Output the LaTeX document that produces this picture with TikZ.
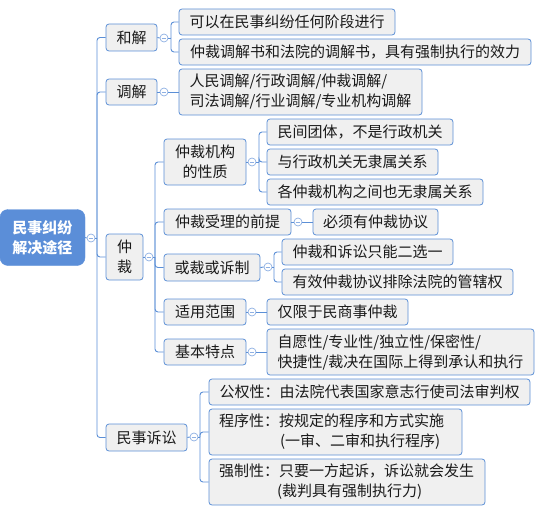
\documentclass[tikz,border=0pt]{standalone}
\usepackage{fontspec}
\setmainfont{Noto Sans CJK SC}
\definecolor{lineblue}{HTML}{5B8FD6}
\definecolor{rootfill}{HTML}{5B8ED8}
\definecolor{boxfill}{HTML}{F0F0F0}
\definecolor{circblue}{HTML}{8EB0E3}
\definecolor{txt}{HTML}{1A1A1A}
\tikzset{
  box/.style={draw=lineblue, fill=boxfill, rounded corners=3pt, line width=0.8pt,
    inner sep=0pt, font=\fontsize{15}{20}\selectfont, text=txt, align=center},
  leftbox/.style={box, align=left},
  rootbox/.style={draw=rootfill, fill=rootfill, rounded corners=8pt, inner sep=0pt,
    font=\fontsize{15}{20}\selectfont\bfseries, text=white, align=center},
  tog/.style={circle, draw=circblue, fill=white, minimum size=8pt, inner sep=0pt, line width=0.7pt,
    path picture={\draw[circblue, line width=0.7pt] ([xshift=-2.3pt]path picture bounding box.center) -- ([xshift=2.3pt]path picture bounding box.center);}},
  conn/.style={draw=lineblue, line width=0.9pt, rounded corners=3pt},
}
\begin{document}
\begin{tikzpicture}[x=1pt, y=-1pt]
\useasboundingbox (0,0) rectangle (551,511);

% root and level 1
\node[rootbox, minimum width=85pt, minimum height=56pt] (root) at (42.5,237.5) {民事纠纷\\解决途径};
\node[box, minimum width=51pt, minimum height=27pt] (hj) at (131.5,37.5) {和解};
\node[box, minimum width=51pt, minimum height=26pt] (tj) at (131.5,92) {调解};
\node[box, minimum width=37pt, minimum height=46pt] (zc) at (124.5,257) {仲\\裁};
\node[box, minimum width=81pt, minimum height=27pt] (ms) at (146.5,437.5) {民事诉讼};

% level 2
\node[box, minimum width=216pt, minimum height=26pt] (hj1) at (287,22) {可以在民事纠纷任何阶段进行};
\node[box, minimum width=352pt, minimum height=26pt] (hj2) at (355,52) {仲裁调解书和法院的调解书，具有强制执行的效力};
\node[leftbox, minimum width=243pt, minimum height=46pt] (tj1) at (300.5,92) {人民调解/行政调解/仲裁调解/\\司法调解/行业调解/专业机构调解};

\node[box, minimum width=82pt, minimum height=46pt] (zc1) at (205,162) {仲裁机构\\的性质};
\node[box, minimum width=127pt, minimum height=26pt] (zc2) at (227.5,222) {仲裁受理的前提};
\node[box, minimum width=96pt, minimum height=27pt] (zc3) at (212,267.5) {或裁或诉制};
\node[box, minimum width=82pt, minimum height=26pt] (zc4) at (205,312) {适用范围};
\node[box, minimum width=82pt, minimum height=26pt] (zc5) at (205,352) {基本特点};

\node[box, minimum width=321pt, minimum height=26pt] (ms1) at (369.5,392) {公权性：由法院代表国家意志行使司法审判权};
\node[leftbox, minimum width=253pt, minimum height=46pt, text width=233pt] (ms2) at (335.5,432) {程序性：按规定的程序和方式实施\\\hspace*{61pt}(一审、二审和执行程序)};
\node[leftbox, minimum width=276pt, minimum height=46pt, text width=256pt] (ms3) at (347,482) {强制性：只要一方起诉，诉讼就会发生\\\hspace*{58pt}(裁判具有强制执行力)};

% level 3
\node[box, minimum width=186pt, minimum height=26pt] (zc1a) at (360,132) {民间团体，不是行政机关};
\node[box, minimum width=171pt, minimum height=26pt] (zc1b) at (352.5,162) {与行政机关无隶属关系};
\node[box, minimum width=216pt, minimum height=26pt] (zc1c) at (375,192) {各仲裁机构之间也无隶属关系};
\node[box, minimum width=125pt, minimum height=26pt] (zc2a) at (375.5,222) {必须有仲裁协议};
\node[box, minimum width=171pt, minimum height=26pt] (zc3a) at (367.5,252) {仲裁和诉讼只能二选一};
\node[box, minimum width=231pt, minimum height=26pt] (zc3b) at (397.5,282) {有效仲裁协议排除法院的管辖权};
\node[box, minimum width=141pt, minimum height=26pt] (zc4a) at (337.5,312) {仅限于民商事仲裁};
\node[leftbox, minimum width=267pt, minimum height=46pt] (zc5a) at (400.5,352) {自愿性/专业性/独立性/保密性/\\快捷性/裁决在国际上得到承认和执行};

% toggles
\node[tog] (troot) at (91,238) {};
\node[tog] (thj) at (164,38) {};
\node[tog] (ttj) at (164,92) {};
\node[tog] (tzc) at (149,257) {};
\node[tog] (tms) at (194,437) {};
\node[tog] (tzc1) at (252,162) {};
\node[tog] (tzc2) at (298,222) {};
\node[tog] (tzc3) at (268,267) {};
\node[tog] (tzc4) at (252,312) {};
\node[tog] (tzc5) at (252,352) {};

% junction coordinates
\coordinate (jroot) at (97,238);
\coordinate (jhj) at (171,38);
\coordinate (jzc) at (155,257);
\coordinate (jms) at (200,437);
\coordinate (jzc1) at (259,162);
\coordinate (jzc3) at (274,267);

% node -> toggle
\foreach \n/\t in {root/troot, hj/thj, tj/ttj, zc/tzc, ms/tms, zc1/tzc1, zc2/tzc2, zc3/tzc3, zc4/tzc4, zc5/tzc5}
  \draw[conn] (\n.east) -- (\t.west);

% toggle -> junction
\draw[conn] (troot.east) -- (jroot);
\draw[conn] (thj.east) -- (jhj);
\draw[conn] (tzc.east) -- (jzc);
\draw[conn] (tms.east) -- (jms);
\draw[conn] (tzc1.east) -- (jzc1);
\draw[conn] (tzc3.east) -- (jzc3);

% junction -> children
\foreach \c in {hj, tj, zc, ms} \draw[conn] (jroot) |- (\c.west);
\foreach \c in {hj1, hj2} \draw[conn] (jhj) |- (\c.west);
\foreach \c in {zc1, zc2, zc3, zc4, zc5} \draw[conn] (jzc) |- (\c.west);
\foreach \c in {ms1, ms2, ms3} \draw[conn] (jms) |- (\c.west);
\foreach \c in {zc1a, zc1b, zc1c} \draw[conn] (jzc1) |- (\c.west);
\foreach \c in {zc3a, zc3b} \draw[conn] (jzc3) |- (\c.west);

% single children
\draw[conn] (ttj.east) -- (tj1.west);
\draw[conn] (tzc2.east) -- (zc2a.west);
\draw[conn] (tzc4.east) -- (zc4a.west);
\draw[conn] (tzc5.east) -- (zc5a.west);
\end{tikzpicture}
\end{document}
